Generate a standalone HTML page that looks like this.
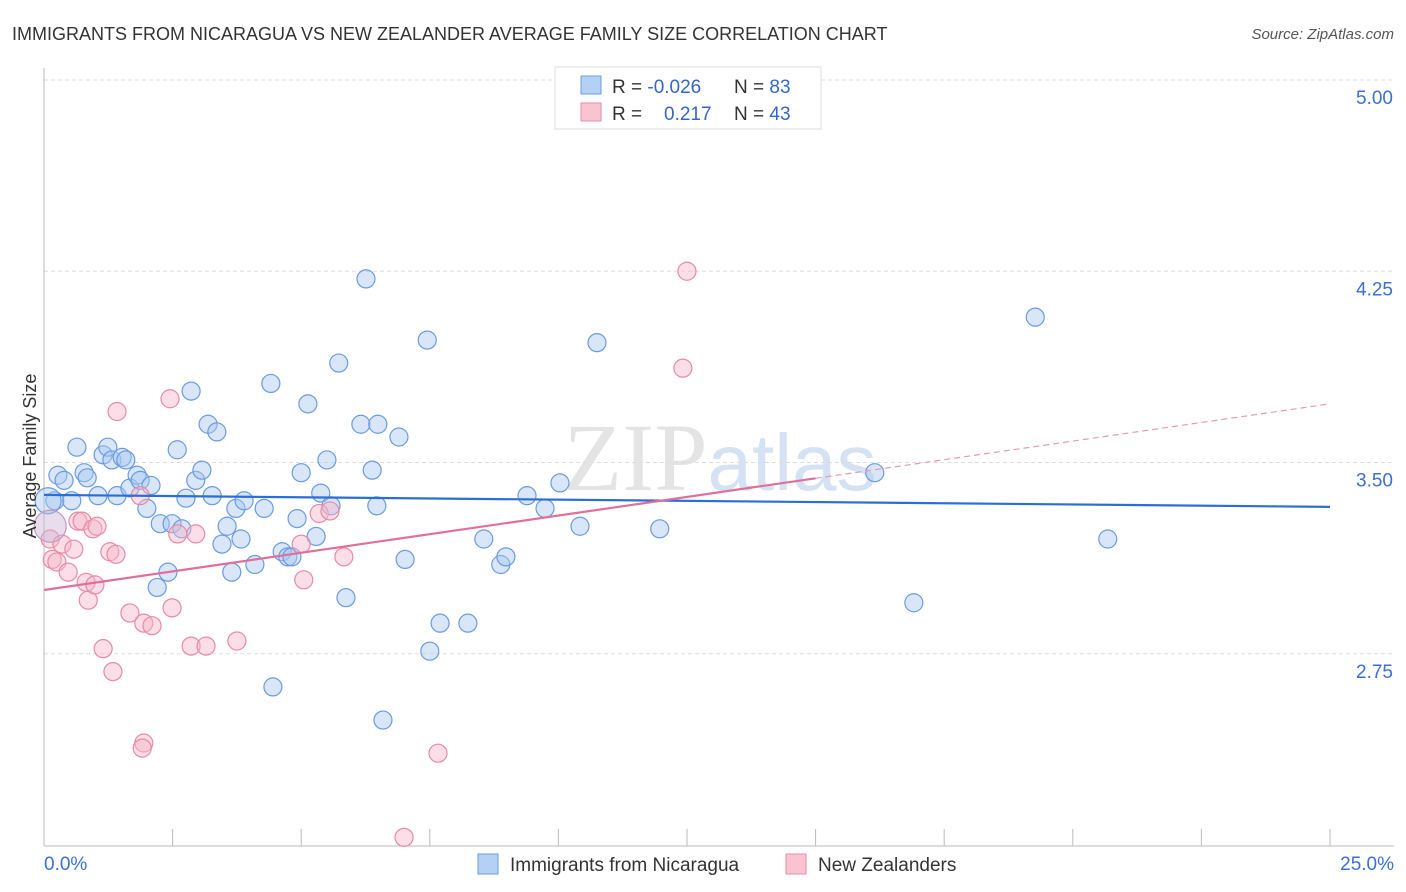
<!DOCTYPE html>
<html><head><meta charset="utf-8"><style>
body{margin:0;background:#fff;font-family:"Liberation Sans",sans-serif;}
svg{display:block}
</style></head><body>
<svg id="chart" width="1406" height="892" xmlns="http://www.w3.org/2000/svg">
<text x="12" y="40" font-size="18" fill="#333">IMMIGRANTS FROM NICARAGUA VS NEW ZEALANDER AVERAGE FAMILY SIZE CORRELATION CHART</text>
<text x="1394" y="39" font-size="15" fill="#555" font-style="italic" text-anchor="end">Source: ZipAtlas.com</text>
<text x="720" y="490" font-size="96" fill="#e4e4e4" text-anchor="middle" font-family="Liberation Serif,serif">ZIP<tspan fill="#d4e2f3" font-family="Liberation Sans,sans-serif" font-size="80">atlas</tspan></text>
<g id="grid"></g><g id="axes"></g><g id="pts"></g><g id="trend"></g>
<text x="36" y="456" font-size="18" fill="#333" text-anchor="middle" transform="rotate(-90 36 456)">Average Family Size</text>
<g>
<rect x="555" y="67" width="266" height="62" fill="#fff" stroke="#ddd"/>
<rect x="581" y="76" width="20" height="18" fill="#b5d0f5" stroke="#6a9be0"/>
<rect x="581" y="103" width="20" height="18" fill="#f9c3d2" stroke="#e88aa6"/>
<text x="612" y="93" font-size="19" fill="#333">R = <tspan fill="#3366cc">-0.026</tspan><tspan x="734">N = </tspan><tspan fill="#3366cc">83</tspan></text>
<text x="612" y="120" font-size="19" fill="#333">R = <tspan x="664" fill="#3366cc">0.217</tspan><tspan x="734">N = </tspan><tspan fill="#3366cc">43</tspan></text>
</g>
<g>
<rect x="478" y="854" width="20" height="20" fill="#b5d0f5" stroke="#6a9be0"/>
<text x="510" y="871" font-size="19" fill="#333">Immigrants from Nicaragua</text>
<rect x="786" y="854" width="20" height="20" fill="#f9c3d2" stroke="#e88aa6"/>
<text x="818" y="871" font-size="19" fill="#333">New Zealanders</text>
</g>
</svg>
<script>
const yTicks=[5.00,4.25,3.50,2.75];
const yTickLabels=["5.00","4.25","3.50","2.75"];
const xTickLabels=["0.0%","25.0%"];
const blueX=[0.21,0.27,0.39,0.54,0.64,0.78,0.84,1.05,1.15,1.24,1.32,1.42,1.52,1.59,1.67,1.81,1.87,2.00,2.08,2.26,2.41,2.20,2.49,2.59,2.68,2.76,2.86,2.95,3.07,3.19,3.27,3.36,3.46,3.56,3.65,3.73,3.83,3.89,4.10,4.28,4.41,4.45,4.63,4.74,4.82,4.92,5.00,5.13,5.29,5.38,5.50,5.58,5.73,5.87,6.16,6.26,6.38,6.47,6.49,6.59,6.90,7.02,7.45,7.50,7.70,8.24,8.55,8.88,8.98,9.39,9.74,10.03,10.42,10.75,11.97,16.15,16.91,19.27,20.68];
const blueY=[3.35,3.45,3.43,3.35,3.56,3.46,3.44,3.37,3.53,3.56,3.51,3.37,3.52,3.51,3.40,3.45,3.43,3.32,3.41,3.26,3.07,3.01,3.26,3.55,3.24,3.36,3.78,3.43,3.47,3.65,3.37,3.62,3.18,3.25,3.07,3.32,3.20,3.35,3.10,3.32,3.81,2.62,3.15,3.13,3.13,3.28,3.46,3.73,3.21,3.38,3.51,3.33,3.89,2.97,3.65,4.22,3.47,3.33,3.65,2.49,3.60,3.12,3.98,2.76,2.87,2.87,3.20,3.10,3.13,3.37,3.32,3.42,3.25,3.97,3.24,3.46,2.95,4.07,3.20];
const pinkX=[0.12,0.16,0.25,0.35,0.47,0.58,0.66,0.74,0.86,0.82,0.99,0.95,1.03,1.42,2.45,12.50,12.42,1.28,1.40,1.67,1.94,2.10,2.49,2.60,2.95,1.15,1.34,2.86,3.15,3.75,1.94,1.91,5.35,5.56,5.00,5.05,5.83,7.66,7.00,1.87];
const pinkY=[3.20,3.12,3.11,3.18,3.07,3.16,3.27,3.27,2.96,3.03,3.02,3.24,3.25,3.70,3.75,4.25,3.87,3.15,3.14,2.91,2.87,2.86,2.93,3.22,3.22,2.77,2.68,2.78,2.78,2.80,2.40,2.38,3.30,3.31,3.18,3.04,3.13,2.36,2.03,3.37];
const bigX=[0.08,0.12], bigY=[3.35,3.25];
const blueTrend=[3.373,3.326];
const pinkTrend=[3.0,3.73];
const X=v=>44+v*51.44, Y=v=>80+(5-v)*255;
const NS="http://www.w3.org/2000/svg";
function mk(tag,attrs,parent){const e=document.createElementNS(NS,tag);for(const k in attrs)e.setAttribute(k,attrs[k]);parent.appendChild(e);return e;}
const grid=document.getElementById('grid'),axes=document.getElementById('axes'),pts=document.getElementById('pts'),trend=document.getElementById('trend');
yTicks.forEach((t,i)=>{
 const l=mk('line',{x1:44,x2:1394,y1:Y(t),y2:Y(t),stroke:'#ddd','stroke-dasharray':'4 3'},grid);
 
 
 const tx=mk('text',{x:1393,y:Y(t)+24,'font-size':19,fill:'#3b6fd1','text-anchor':'end'},axes);
 tx.textContent=yTickLabels[i];
 
 
});
const ax=mk('line',{x1:44,x2:44,y1:68,y2:846,stroke:'#bbb'},axes);


const bx=mk('line',{x1:44,x2:1394,y1:846,y2:846,stroke:'#bbb'},axes);


for(let i=0;i<=10;i++){const tk=mk('line',{x1:X(i*2.5),x2:X(i*2.5),y1:829,y2:846,stroke:'#bbb'},axes);
 
 }
[[0,'start'],[25,'end']].forEach((d,i)=>{const t=mk('text',{x:i?1394:44,y:870,'font-size':19,fill:'#3b6fd1','text-anchor':d[1]},axes);t.textContent=xTickLabels[i];
 
 });
function dot(x,y,r,f,s,name){const c=mk('circle',{cx:X(x),cy:Y(y),r:r,fill:f,'fill-opacity':0.45,stroke:s,'stroke-width':1.2},pts);
 
 }
blueX.forEach((x,i)=>dot(x,blueY[i],9,'#a9c8f0','#6a9be0','blue-point'));
pinkX.forEach((x,i)=>dot(x,pinkY[i],9,'#f7b6c9','#e88aa6','pink-point'));
dot(bigX[0],bigY[0],13,'#a9c8f0','#6a9be0','blue-point');
dot(bigX[1],bigY[1],16,'#c9b3d4','#c29ac0','overlap-point');
const b=mk('line',{x1:X(0),x2:X(25),y1:Y(blueTrend[0]),y2:Y(blueTrend[1]),stroke:'#2a6fd6','stroke-width':2.2},trend);


const pe=pinkTrend[0]+(pinkTrend[1]-pinkTrend[0])*15/25;
const p=mk('line',{x1:X(0),x2:X(15),y1:Y(pinkTrend[0]),y2:Y(pe),stroke:'#e0709a','stroke-width':2.2},trend);


const pd=mk('line',{x1:X(15),x2:X(25),y1:Y(pe),y2:Y(pinkTrend[1]),stroke:'#e89ab5','stroke-width':1.2,'stroke-dasharray':'6 4'},trend);


</script>
</body></html>
